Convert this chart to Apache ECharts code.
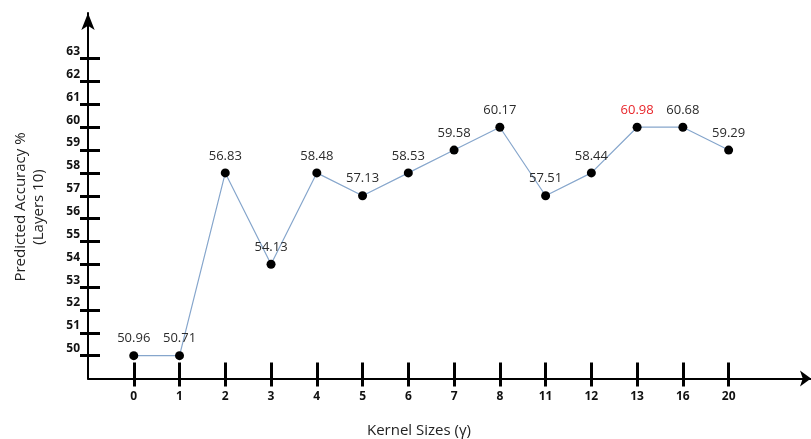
<!DOCTYPE html>
<html>
<head>
<meta charset="utf-8">
<script src="https://cdn.jsdelivr.net/npm/echarts@6/dist/echarts.min.js"></script>
<style>html,body{margin:0;padding:0;background:#fff;}#c{width:811px;height:439px;}</style>
</head>
<body>
<div id="c"></div>
<script>
const categories = ['0', '1', '2', '3', '4', '5', '6', '7', '8', '11', '12', '13', '16', '20'];
const plottedLevels = [50, 50, 58, 54, 58, 57, 58, 59, 60, 57, 58, 60, 60, 59];
const labelValues = [50.96, 50.71, 56.83, 54.13, 58.48, 57.13, 58.53, 59.58, 60.17, 57.51, 58.44, 60.98, 60.68, 59.29];
const highlightIndex = 11;
const yTicks = [50, 51, 52, 53, 54, 55, 56, 57, 58, 59, 60, 61, 62, 63];
const xTitle = 'Kernel Sizes (\u03b3)';
const yTitle = 'Predicted Accuracy %\n(Layers 10)';

const xIdx = categories.map((c, i) => i);
const FONT = 'Open Sans';
const chart = echarts.init(document.getElementById('c'), null, {renderer: 'canvas'});

const baseX = {
  type: 'value', min: -1, max: 14.8, splitLine: {show: false}
};
const baseY = {
  type: 'value', min: 49, max: 65, splitLine: {show: false}
};

chart.setOption({
  animation: false,
  backgroundColor: '#fff',
  grid: {left: 88, right: 0, top: 13, bottom: 60.5, containLabel: false},
  xAxis: [
    Object.assign({}, baseX, {
      position: 'bottom',
      axisLine: {show: true, onZero: false, symbol: ['none', 'arrow'], symbolSize: [12, 11],
        lineStyle: {color: '#000', width: 2}},
      axisTick: {show: true, inside: false, length: 8, customValues: xIdx,
        lineStyle: {color: '#000', width: 3}},
      axisLabel: {show: true, customValues: xIdx, margin: 12,
        formatter: v => categories[Math.round(v)],
        fontFamily: FONT, fontWeight: 'bold', fontSize: 12, color: '#111'}
    }),
    Object.assign({}, baseX, {
      position: 'bottom',
      axisLine: {show: false, onZero: false},
      axisTick: {show: true, inside: true, length: 16, customValues: xIdx,
        lineStyle: {color: '#000', width: 3}},
      axisLabel: {show: false}
    })
  ],
  yAxis: [
    Object.assign({}, baseY, {
      position: 'left',
      axisLine: {show: true, onZero: false, symbol: ['none', 'arrow'], symbolSize: [10, 17],
        lineStyle: {color: '#000', width: 2}},
      axisTick: {show: true, inside: false, length: 8, customValues: yTicks,
        lineStyle: {color: '#000', width: 3}},
      axisLabel: {show: true, customValues: yTicks, margin: 8,
        verticalAlign: 'bottom', lineHeight: 14,
        fontFamily: FONT, fontWeight: 'bold', fontSize: 12, color: '#111'}
    }),
    Object.assign({}, baseY, {
      position: 'left',
      axisLine: {show: false, onZero: false},
      axisTick: {show: true, inside: true, length: 12, customValues: yTicks,
        lineStyle: {color: '#000', width: 3}},
      axisLabel: {show: false}
    })
  ],
  graphic: [
    {type: 'text', x: 30, y: 207, rotation: Math.PI / 2,
      style: {text: yTitle, font: '15px "Open Sans"', fill: '#222', align: 'center',
        verticalAlign: 'middle', lineHeight: 18}},
    {type: 'text', x: 419, y: 431,
      style: {text: xTitle, font: '15px "Open Sans"', fill: '#222', align: 'center',
        verticalAlign: 'middle'}}
  ],
  series: [{
    type: 'line',
    xAxisIndex: 0, yAxisIndex: 0,
    data: plottedLevels.map((v, i) => ({
      value: [i, v],
      label: {
        formatter: labelValues[i].toFixed(2),
        color: i === highlightIndex ? '#e8262b' : '#2b2b2b'
      }
    })),
    symbol: 'circle', symbolSize: 9,
    itemStyle: {color: '#000'},
    lineStyle: {color: '#86a6cc', width: 1.2},
    label: {show: true, position: 'top', distance: 6, fontFamily: FONT, fontSize: 13},
    z: 3
  }]
});
</script>
</body>
</html>
